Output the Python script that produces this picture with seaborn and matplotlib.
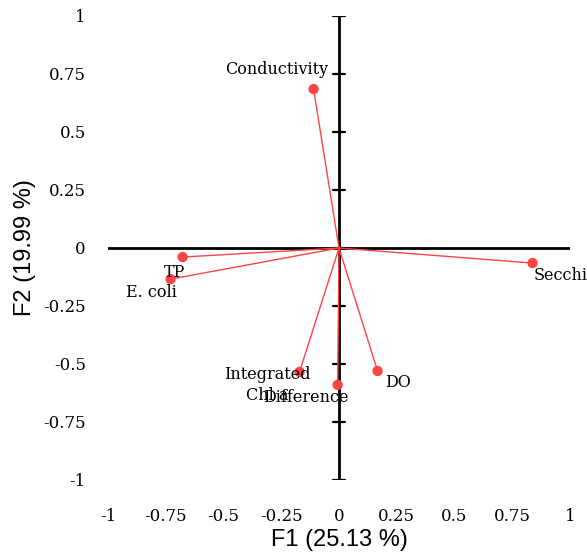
import matplotlib
matplotlib.use("Agg")
import matplotlib.pyplot as plt
import seaborn as sns
import pandas as pd

# Variable loadings on the first two factors
variables = ["Conductivity", "TP", "E. coli", "Secchi", "DO",
             "Integrated\nChl a", "Difference"]
f1 = [-0.110, -0.677, -0.729, 0.838, 0.167, -0.171, -0.006]
f2 = [0.685, -0.039, -0.134, -0.065, -0.530, -0.534, -0.590]
# label offsets (pixels) from each point
label_dx = [-37, -8, -19, 28, 20, -32, -32]
label_dy = [20, -15, -13, -12, -12, -13, -13]

ticks = [-1, -0.75, -0.5, -0.25, 0, 0.25, 0.5, 0.75, 1]
tick_labels = ["-1", "-0.75", "-0.5", "-0.25", "0", "0.25", "0.5", "0.75", "1"]

df = pd.DataFrame({"variable": variables, "F1": f1, "F2": f2})

sns.set_style("white")
plt.rcParams.update({"text.color": "black", "axes.labelcolor": "black",
                     "xtick.color": "black", "ytick.color": "black"})
fig = plt.figure(figsize=(5.87, 5.58), dpi=100)
ax = fig.add_axes([108 / 587, 78 / 558, 462 / 587, 464 / 558])

red = "#ff4444"
for x, y in zip(df["F1"], df["F2"]):
    ax.plot([0, x], [0, y], color=red, lw=1.0, zorder=3)
sns.scatterplot(data=df, x="F1", y="F2", color=red, s=55, edgecolor="none",
                ax=ax, zorder=4, legend=False)

# axes through the origin
ax.axhline(0, color="black", lw=2, zorder=2)
ax.axvline(0, color="black", lw=2, zorder=2)
for t in ticks:
    ax.plot([-0.028, 0.028], [t, t], color="black", lw=1.6, zorder=2)

for name, x, y, dx, dy in zip(df["variable"], df["F1"], df["F2"], label_dx, label_dy):
    ax.annotate(name, (x, y), xytext=(dx, dy), textcoords="offset pixels",
                ha="center", va="center", fontsize=11.5, color="black",
                family="DejaVu Serif", linespacing=1.3, zorder=5)

ax.set_xlim(-1, 1)
ax.set_ylim(-1, 1)
ax.set_xticks(ticks)
ax.set_xticklabels(tick_labels, family="DejaVu Serif", fontsize=12)
ax.set_yticks(ticks)
ax.set_yticklabels(tick_labels, family="DejaVu Serif", fontsize=12)
ax.tick_params(axis="both", length=0)
ax.tick_params(axis="x", pad=20)
ax.tick_params(axis="y", pad=16)
for s in ax.spines.values():
    s.set_visible(False)

ax.set_xlabel("F1 (25.13 %)", family="Liberation Sans", fontsize=17, labelpad=3)
ax.set_ylabel("F2 (19.99 %)", family="Liberation Sans", fontsize=17, labelpad=5)

fig.savefig("out.png", dpi=100)
